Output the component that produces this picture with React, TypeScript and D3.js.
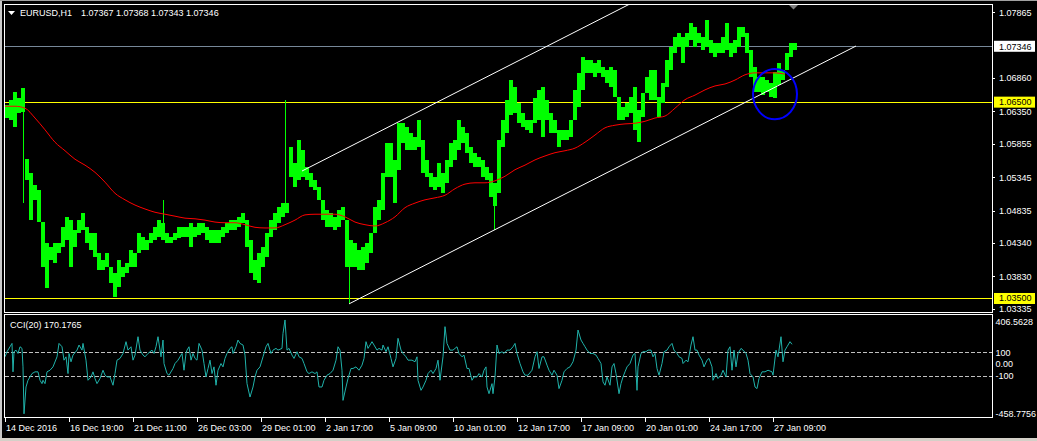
import React from "react";
import * as d3 from "d3";

// ---------- data ----------
const SYMBOL = "EURUSD,H1";
const QUOTES = ["1.07367", "1.07368", "1.07343", "1.07346"];
const BARS_PER_COLUMN = 4; // hourly bars summarised per drawn column
const VISIBLE_BARS = 987;

const priceHighs = [
  1.0645, 1.0653, 1.0665, 1.0656, 1.0671, 1.0562, 1.0541, 1.0523, 1.0515, 1.0466,
  1.0434, 1.0428, 1.0434, 1.0434, 1.0458, 1.0474, 1.0469, 1.0454, 1.0469, 1.048,
  1.0458, 1.0449, 1.0449, 1.0419, 1.0408, 1.0419, 1.0397, 1.0388, 1.0408, 1.0397,
  1.0403, 1.0423, 1.0419, 1.0449, 1.0443, 1.0439, 1.0449, 1.0458, 1.0469, 1.0465,
  1.0449, 1.0443, 1.0449, 1.0458, 1.0458, 1.0458, 1.0465, 1.0458, 1.0465, 1.0465,
  1.0458, 1.0454, 1.0454, 1.0454, 1.0458, 1.0465, 1.0469, 1.0469, 1.0474, 1.048,
  1.0469, 1.0439, 1.0408, 1.0419, 1.0428, 1.0449, 1.0469, 1.048, 1.0489, 1.0495,
  1.0495, 1.0581, 1.0556, 1.0591, 1.0576, 1.055, 1.0541, 1.053, 1.052, 1.05,
  1.0484, 1.048, 1.0474, 1.0484, 1.0489, 1.0469, 1.0439, 1.0434, 1.0423, 1.0428,
  1.0434, 1.0449, 1.0489, 1.05, 1.0541, 1.0587, 1.0587, 1.0561, 1.0617, 1.0617,
  1.0611, 1.0602, 1.0596, 1.0622, 1.0591, 1.0561, 1.0541, 1.0535, 1.0556, 1.0541,
  1.0561, 1.0587, 1.0591, 1.0622, 1.0611, 1.0602, 1.0581, 1.0572, 1.0565, 1.0561,
  1.055, 1.0541, 1.0526, 1.0591, 1.0622, 1.0653, 1.0683, 1.0672, 1.0648, 1.0633,
  1.0622, 1.0622, 1.0656, 1.0668, 1.0672, 1.0653, 1.0633, 1.0622, 1.0607, 1.0607,
  1.0607, 1.0622, 1.0668, 1.0694, 1.0718, 1.0714, 1.0714, 1.0709, 1.0714, 1.0703,
  1.0698, 1.0703, 1.0698, 1.0657, 1.0642, 1.0648, 1.0657, 1.0672, 1.0637, 1.0663,
  1.0688, 1.0698, 1.0698, 1.0657, 1.0679, 1.0714, 1.0734, 1.0749, 1.0755, 1.0749,
  1.0755, 1.077, 1.0764, 1.0755, 1.0749, 1.0775, 1.0744, 1.074, 1.074, 1.0749,
  1.077, 1.074, 1.0744, 1.0764, 1.0764, 1.0755, 1.0729, 1.0703, 1.0688, 1.0688,
  1.0683, 1.0679, 1.0695, 1.0709, 1.0698, 1.0724, 1.074, 1.074,
];

const priceLows = [
  1.0625, 1.0622, 1.0611, 1.0633, 1.0634, 1.053, 1.0469, 1.05, 1.0466, 1.0397,
  1.0365, 1.0408, 1.0403, 1.0419, 1.0428, 1.0439, 1.0397, 1.0428, 1.0449, 1.0454,
  1.0434, 1.0423, 1.0413, 1.0393, 1.0393, 1.0397, 1.0373, 1.0352, 1.0367, 1.0382,
  1.0388, 1.0397, 1.0397, 1.0419, 1.0423, 1.0423, 1.0434, 1.0439, 1.0443, 1.0439,
  1.0434, 1.0434, 1.0439, 1.0442, 1.0443, 1.0443, 1.0428, 1.0443, 1.0446, 1.0449,
  1.0439, 1.0434, 1.0434, 1.0434, 1.0443, 1.0449, 1.0454, 1.0454, 1.0458, 1.0465,
  1.0428, 1.0388, 1.0378, 1.0373, 1.0397, 1.0413, 1.0443, 1.0454, 1.0465, 1.0474,
  1.048, 1.0535, 1.052, 1.053, 1.0535, 1.053, 1.052, 1.0515, 1.05, 1.0469,
  1.0458, 1.0458, 1.0454, 1.0458, 1.0469, 1.0397, 1.0397, 1.0397, 1.0393, 1.0393,
  1.0403, 1.0419, 1.0449, 1.0469, 1.0484, 1.0535, 1.0535, 1.0495, 1.0546, 1.0587,
  1.0576, 1.0576, 1.0576, 1.0581, 1.0541, 1.0535, 1.052, 1.0515, 1.052, 1.051,
  1.0526, 1.055, 1.0561, 1.0576, 1.0587, 1.0572, 1.0556, 1.055, 1.055, 1.0535,
  1.053, 1.0504, 1.049, 1.051, 1.0581, 1.0602, 1.063, 1.0633, 1.0617, 1.0611,
  1.0607, 1.0602, 1.0617, 1.0622, 1.0596, 1.0622, 1.0602, 1.0602, 1.0581, 1.0591,
  1.0591, 1.0596, 1.0622, 1.0642, 1.0668, 1.0694, 1.0694, 1.0688, 1.0694, 1.0688,
  1.0679, 1.0672, 1.0657, 1.0622, 1.0622, 1.0627, 1.0633, 1.0607, 1.0588, 1.0627,
  1.0663, 1.0653, 1.0653, 1.0627, 1.0648, 1.0672, 1.0698, 1.0724, 1.0734, 1.0709,
  1.0734, 1.0744, 1.0734, 1.074, 1.0729, 1.0734, 1.0724, 1.0718, 1.0724, 1.0724,
  1.0729, 1.0718, 1.0724, 1.0734, 1.0749, 1.0724, 1.0688, 1.0665, 1.0665, 1.066,
  1.0665, 1.0657, 1.0656, 1.0676, 1.0683, 1.0698, 1.0718, 1.0729,
];

// single hourly bars with long wicks: [bar index, high, low]
const spikeBars: [number, number, number][] = [
  [18, 1.0645, 1.0495],
  [158, 1.05, 1.0443],
  [280, 1.0653, 1.048],
  [344, 1.0439, 1.0343],
  [489, 1.0526, 1.0454],
];

// moving average, one value every MA_STEP bars
const MA_STEP = 10;
const maValues = [
  1.0643, 1.0643, 1.064, 1.0625, 1.0607, 1.0588, 1.0575, 1.0562, 1.0553, 1.0542,
  1.0527, 1.051, 1.05, 1.0492, 1.0486, 1.0481, 1.0478, 1.0475, 1.0472, 1.0471,
  1.0469, 1.0466, 1.0465, 1.0465, 1.0462, 1.0458, 1.0457, 1.0457, 1.0462, 1.0469,
  1.0477, 1.0478, 1.0478, 1.0478, 1.0474, 1.0466, 1.0462, 1.046, 1.0465, 1.0474,
  1.0488, 1.0495, 1.05, 1.0503, 1.0507, 1.0517, 1.0524, 1.0526, 1.0526, 1.0529,
  1.0536, 1.0546, 1.0553, 1.0561, 1.0567, 1.0572, 1.0575, 1.0579, 1.0588, 1.0599,
  1.061, 1.0614, 1.0616, 1.0617, 1.062, 1.0625, 1.0628, 1.064, 1.0653, 1.066,
  1.0668, 1.0674, 1.0677, 1.0683, 1.0691, 1.0694, 1.0694, 1.0694, 1.0692,
];

// CCI(20): [bar index, value]
const cciPoints: [number, number][] = [
  [0, 62], [2, 106], [5, 149], [7, 178], [8, -68], [9, 106], [11, 120], [13, 91], [15, 149], [17, 135],
  [18, -25], [19, -431], [21, -199], [23, -141], [27, -83], [30, -68], [33, -68], [35, -141], [37, -170], [38, -141],
  [40, -170], [42, -68], [45, -54], [48, -25], [52, 62], [54, 178], [57, 149], [59, 33], [61, 62], [63, -83],
  [64, 91], [66, 19], [68, 77], [72, 120], [74, 164], [77, 120], [78, 178], [81, 33], [83, -141], [86, -112],
  [88, -68], [90, -126], [92, -170], [95, -126], [98, -54], [100, -97], [102, -112], [105, -112], [108, -184], [110, -83],
  [112, 33], [115, 48], [118, 91], [121, 193], [123, 120], [126, 149], [128, 33], [130, 77], [133, 236], [135, 120],
  [138, 77], [140, 62], [143, 91], [147, 120], [149, 91], [151, 149], [153, 236], [156, 62], [158, 207], [159, 4],
  [162, -83], [164, -97], [168, -39], [170, 4], [173, 33], [177, 91], [179, -54], [181, 91], [182, 120], [184, 149],
  [186, 33], [188, 91], [190, 48], [192, 33], [194, 178], [197, 120], [199, 4], [201, -112], [203, -39], [205, 33],
  [207, -83], [209, -25], [211, -184], [213, -54], [216, 4], [218, -25], [220, 48], [222, 91], [225, 135], [227, 149],
  [228, 91], [231, 149], [233, 207], [235, 178], [238, 164], [240, 77], [242, -170], [245, -286], [248, -199], [250, -112],
  [252, -54], [255, -25], [258, 62], [261, 149], [263, 178], [266, 91], [268, 120], [271, 135], [273, 120], [277, 135],
  [278, 265], [280, 381], [282, 120], [284, 135], [287, 77], [289, 48], [292, 106], [294, 62], [297, 48], [299, 4],
  [302, -68], [304, -83], [307, -68], [310, -83], [312, -68], [314, -199], [317, -199], [319, -141], [322, -97], [325, -83],
  [328, -54], [331, 33], [333, 149], [335, 120], [337, -54], [338, -315], [341, -199], [343, -126], [346, -39], [348, -39],
  [351, -25], [354, -54], [357, -10], [359, 48], [361, 193], [363, 135], [364, 149], [367, 193], [369, 164], [372, 120],
  [374, 135], [377, 120], [378, 164], [381, 106], [383, 149], [386, 48], [388, -25], [391, 48], [393, 222], [396, 120],
  [398, 91], [401, 62], [403, 33], [407, 33], [410, 19], [412, 62], [413, -141], [416, -228], [418, -199], [421, -141],
  [423, -83], [426, -54], [428, -83], [431, -39], [433, 33], [435, -141], [438, 62], [440, 323], [442, 178], [445, 120],
  [448, 120], [450, 135], [452, 149], [454, 91], [457, 62], [459, 77], [462, -39], [464, -39], [467, -141], [469, -112],
  [472, -112], [474, -83], [477, -112], [479, -54], [481, -25], [482, -199], [484, -257], [487, -170], [488, -257], [490, -112],
  [492, 164], [494, 91], [497, 106], [499, 91], [502, 120], [505, 120], [508, 149], [510, 178], [512, 91], [515, 4],
  [518, -68], [520, -97], [523, -97], [527, -54], [530, 62], [532, 106], [534, -39], [537, 62], [539, 62], [542, -10],
  [544, -54], [547, -97], [549, -54], [552, -97], [554, -213], [557, -141], [559, -68], [562, -39], [565, -25], [568, 19],
  [571, 120], [573, 294], [576, 207], [578, 178], [580, 149], [582, 120], [585, 91], [588, 91], [591, 77], [593, 48],
  [596, 4], [598, -155], [600, -184], [602, -112], [605, -184], [607, -25], [609, 4], [611, -83], [614, -257], [616, -170],
  [618, -112], [620, -68], [622, -25], [625, 4], [628, 77], [630, 91], [632, -228], [633, -25], [636, 91], [638, 106],
  [641, 106], [643, 120], [646, 120], [648, 62], [650, 91], [652, -39], [654, -97], [657, 4], [659, 106], [662, 120],
  [664, 149], [667, 178], [669, 120], [672, 91], [674, 62], [677, 48], [678, 4], [681, 33], [683, 19], [686, 164],
  [688, 236], [690, 120], [692, 120], [694, 77], [697, 33], [699, -25], [702, 33], [704, 48], [707, -25], [708, -141],
  [711, -83], [713, -126], [716, -97], [718, -54], [721, -112], [723, 120], [725, 149], [727, -54], [729, 120], [731, -25],
  [733, 91], [736, 135], [738, 120], [741, 91], [743, 33], [745, -83], [748, -112], [750, -199], [752, -213], [754, -126],
  [757, -68], [760, -68], [763, -54], [767, -68], [768, -97], [771, 120], [773, 62], [776, 236], [778, 19], [780, 120],
  [782, 149], [785, 193], [787, 170.1765],
];
const CCI_LAST = "170.1765";
const CCI_MAX = 406.5628;
const CCI_MIN = -458.7756;
const cciLevels = [100, -100];
const cciAxis: [number, string][] = [
  [406.5628, "406.5628"], [100, "100"], [0, "0.00"], [-100, "-100"], [-458.7756, "-458.7756"],
];

const PRICE_MIN = 1.03286;
const PRICE_MAX = 1.07992;
const priceTicks = [1.07865, 1.0686, 1.0635, 1.05855, 1.05345, 1.04835, 1.0434, 1.0383, 1.03335];
const BID = 1.07346;
const supportResistance = [1.065, 1.035];
const channelLower: [number, number][] = [[344, 1.0341], [851, 1.0735]];
const channelUpper: [number, number][] = [[297, 1.0544], [640, 1.0811]];
const ellipseBars = [748, 792];
const ellipsePrices = [1.07, 1.0623];

const timeTickBars = [0, 64, 128, 192, 256, 320, 384, 448, 512, 576, 640, 704, 768];
const timeLabels = [
  "14 Dec 2016", "16 Dec 19:00", "21 Dec 11:00", "26 Dec 03:00", "29 Dec 01:00", "2 Jan 17:00",
  "5 Jan 09:00", "10 Jan 01:00", "12 Jan 17:00", "17 Jan 09:00", "20 Jan 01:00", "24 Jan 17:00", "27 Jan 09:00",
];

// ---------- layout ----------
const W = 1037;
const H = 441;
const L = 5;
const R = 992;
const MAIN_T = 4;
const MAIN_B = 312;
const SUB_T = 315;
const SUB_B = 418;
const FONT = "'Liberation Sans', Arial, sans-serif";
const FS = 9;

export default function App() {
  const x = d3.scaleLinear().domain([0, VISIBLE_BARS]).range([L, R]);
  const y = d3.scaleLinear().domain([PRICE_MIN, PRICE_MAX]).range([MAIN_B, MAIN_T]);
  const yc = d3.scaleLinear().domain([CCI_MIN, CCI_MAX]).range([SUB_B - 1, SUB_T + 2]);

  const maLine = d3
    .line<number>()
    .x((_, i) => x(i * MA_STEP))
    .y((d) => y(d))
    .curve(d3.curveMonotoneX);
  const cciLine = d3
    .line<[number, number]>()
    .x((d) => x(d[0]))
    .y((d) => yc(d[1]));
  const seg = d3
    .line<[number, number]>()
    .x((d) => x(d[0]))
    .y((d) => y(d[1]));

  const ex0 = x(ellipseBars[0]);
  const ex1 = x(ellipseBars[1]);
  const ey0 = y(ellipsePrices[0]);
  const ey1 = y(ellipsePrices[1]);
  const crisp = (v: number) => Math.round(v) + 0.5;

  return (
    <svg
      width={W}
      height={H}
      style={{ position: "absolute", left: 0, top: 0, display: "block" }}
      fontFamily={FONT}
      fontSize={FS}
    >
      <defs>
        <clipPath id="mainClip">
          <rect x={L} y={MAIN_T + 1} width={R - L} height={MAIN_B - MAIN_T - 1} />
        </clipPath>
        <clipPath id="subClip">
          <rect x={L} y={SUB_T} width={R - L} height={SUB_B - SUB_T} />
        </clipPath>
      </defs>
      <rect x={0} y={0} width={W} height={H} fill="#000" />
      {/* window edges */}
      <rect x={0} y={0} width={2} height={H} fill="#c8c8c8" />
      <rect x={0} y={0} width={W} height={1} fill="#a0a0a0" />
      <rect x={0} y={438} width={W} height={3} fill="#d4d0c8" />

      {/* main panel */}
      <g clipPath="url(#mainClip)">
        {supportResistance.map((p) => (
          <line key={p} x1={L} x2={R} y1={crisp(y(p))} y2={crisp(y(p))} stroke="#ffff00" shapeRendering="crispEdges" />
        ))}
        <line x1={L} x2={R} y1={crisp(y(BID))} y2={crisp(y(BID))} stroke="#778899" shapeRendering="crispEdges" />
        {priceHighs.map((hi, k) => {
          const lo = priceLows[k];
          const top = y(hi);
          const h = Math.max(1, y(lo) - top);
          return (
            <rect
              key={k}
              x={x(k * BARS_PER_COLUMN)}
              y={top}
              width={x(BARS_PER_COLUMN) - x(0)}
              height={h}
              fill="#00ff00"
              shapeRendering="crispEdges"
            />
          );
        })}
        {spikeBars.map(([b, hi, lo]) => (
          <line
            key={"s" + b}
            x1={crisp(x(b))}
            x2={crisp(x(b))}
            y1={y(hi)}
            y2={y(lo)}
            stroke="#00ff00"
            shapeRendering="crispEdges"
          />
        ))}
        <path d={maLine(maValues) || ""} fill="none" stroke="#ff0000" strokeWidth={1} />
        <path d={seg(channelLower) || ""} fill="none" stroke="#ffffff" strokeWidth={1} />
        <path d={seg(channelUpper) || ""} fill="none" stroke="#ffffff" strokeWidth={1} />
        <ellipse
          cx={(ex0 + ex1) / 2}
          cy={(ey0 + ey1) / 2}
          rx={(ex1 - ex0) / 2}
          ry={(ey1 - ey0) / 2}
          fill="none"
          stroke="#0000ff"
          strokeWidth={2}
        />
      </g>
      <rect x={L - 0.5} y={MAIN_T + 0.5} width={R - L + 0.5} height={MAIN_B - MAIN_T} fill="none" stroke="#fff" shapeRendering="crispEdges" />
      {/* shift marker */}
      <polygon points="789,5 798,5 793.5,9.5" fill="#808080" />

      {/* title */}
      <polygon points="8,11 15,11 11.5,15" fill="#fff" />
      <text x={20} y={16} fill="#fff">{SYMBOL}</text>
      <text x={81} y={16} fill="#fff">{QUOTES.join(" ")}</text>

      {/* price axis */}
      {priceTicks.map((p) => (
        <g key={p}>
          <line x1={R} x2={R + 3} y1={crisp(y(p))} y2={crisp(y(p))} stroke="#fff" shapeRendering="crispEdges" />
          <text x={999} y={y(p) + 3.3} fill="#fff">{p.toFixed(5)}</text>
        </g>
      ))}
      {supportResistance.map((p) => (
        <g key={"l" + p}>
          <rect x={994} y={y(p) - 5} width={41} height={11} fill="#ffff00" />
          <text x={999} y={y(p) + 3.3} fill="#000">{p.toFixed(5)}</text>
        </g>
      ))}
      <rect x={994} y={y(BID) - 5.5} width={41} height={11} fill="#fff" />
      <text x={999} y={y(BID) + 3.3} fill="#000">{BID.toFixed(5)}</text>

      {/* CCI panel */}
      <g clipPath="url(#subClip)">
        {cciLevels.map((v) => (
          <line
            key={v}
            x1={L}
            x2={R}
            y1={crisp(yc(v))}
            y2={crisp(yc(v))}
            stroke="#c0c0c0"
            strokeDasharray="4,2"
            shapeRendering="crispEdges"
          />
        ))}
        <path d={cciLine(cciPoints) || ""} fill="none" stroke="#20b2aa" strokeWidth={1} />
      </g>
      <rect x={L - 0.5} y={SUB_T - 0.5} width={R - L + 0.5} height={SUB_B - SUB_T} fill="none" stroke="#fff" shapeRendering="crispEdges" />
      <text x={10} y={327.5} fill="#fff">{`CCI(20) ${CCI_LAST}`}</text>
      {cciAxis.map(([v, label], i) => {
        let cy = yc(v);
        if (i === 0) cy += 4.5;
        if (i === cciAxis.length - 1) cy -= 3;
        return (
          <text key={label} x={995.5} y={cy + 3.3} fill="#fff">{label}</text>
        );
      })}

      {/* time axis */}
      {timeTickBars.map((b, i) => (
        <g key={b}>
          <line x1={crisp(x(b))} x2={crisp(x(b))} y1={SUB_B} y2={SUB_B + 4} stroke="#fff" shapeRendering="crispEdges" />
          <text x={x(b) + 1} y={431} fill="#fff">{timeLabels[i]}</text>
        </g>
      ))}
    </svg>
  );
}
